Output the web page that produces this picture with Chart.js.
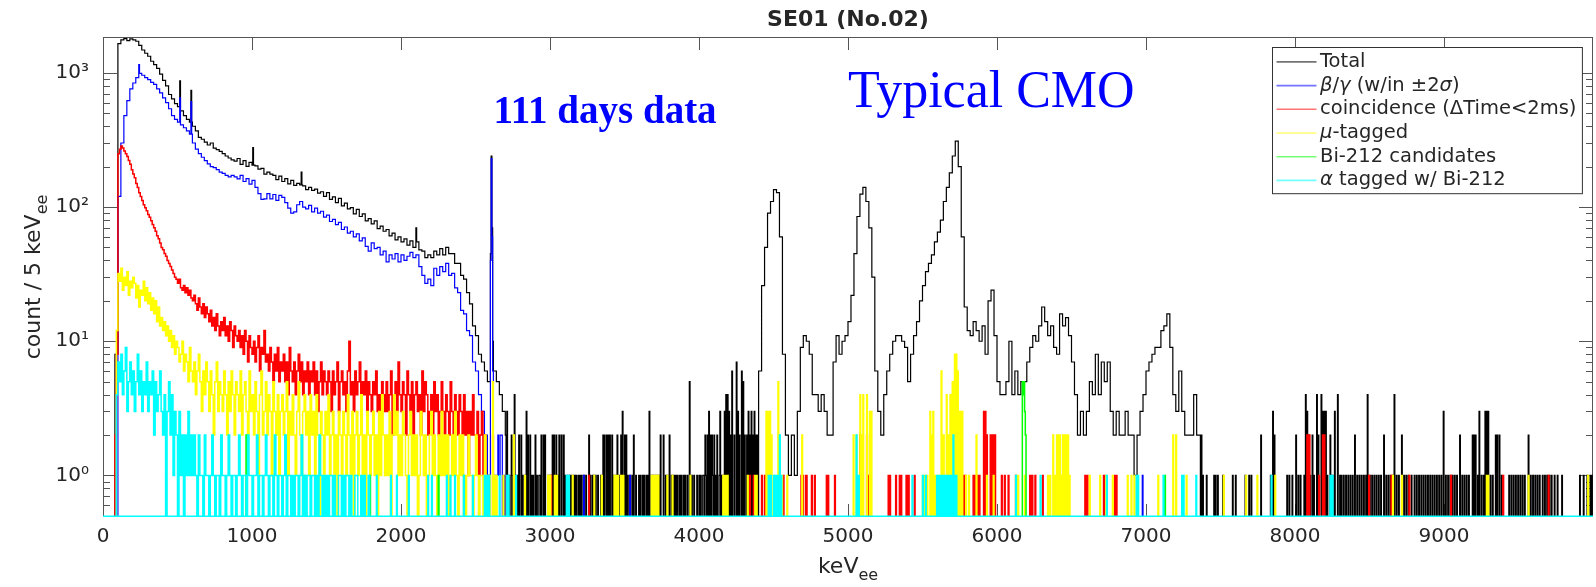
<!DOCTYPE html>
<html>
<head>
<meta charset="utf-8">
<title>SE01 (No.02)</title>
<script src="https://cdn.jsdelivr.net/npm/chart.js@4.4.1/dist/chart.umd.min.js"></script>
<style>
  html, body { margin: 0; padding: 0; background: #fff; }
  #wrap { width: 1596px; height: 587px; }
</style>
</head>
<body>
<div id="wrap"><canvas id="spectrum" width="1596" height="587"></canvas></div>
<script>
// Energy spectrum in 5 keV bins, 0 - 10000 keV
const BIN = 5;
const X_MIN = 0, X_MAX = 10000;
const Y_MIN = 0.49, Y_MAX = 1850;
const xTicks = [0, 1000, 2000, 3000, 4000, 5000, 6000, 7000, 8000, 9000];
const yTicks = [1, 10, 100, 1000];
const yTickLabels = ['10⁰', '10¹', '10²', '10³'];

// dense parts start at LOW_START keV; Total/beta in 20 keV steps, the rest in 10 keV steps
const LOW_START = 80;
const PEAK_START = 4400;

const totalLow = [8,
  1650, 1760, 1800, 1740, 1790, 1760, 1720, 1600, 1480, 1400,
  1330, 1220, 1150, 1080, 980, 880, 800, 690, 640, 590,
  560, 520, 480, 450, 430, 400, 370, 330, 320, 305,
  290, 300, 275, 268, 260, 250, 240, 232, 225, 220,
  230, 208, 222, 201, 215, 205, 203, 192, 194, 176,
  182, 176, 172, 160, 170, 155, 163, 149, 158, 145,
  150, 146, 144, 135, 140, 133, 136, 127, 130, 120,
  128, 114, 119, 108, 116, 102, 107, 97, 99, 89,
  96, 85, 89, 79, 82, 75, 79, 69, 72, 66,
  68, 61, 64, 57, 60, 55, 58, 52, 56, 50,
  55, 48, 47, 42, 44, 42, 47, 44, 49, 44,
  50, 45, 45, 38, 38, 31, 29, 23, 19, 13,
  11, 8, 7, 6, 5, 6, 6, 5, 4, 3];

const totalPeaks = [
  6, 26, 50, 90, 110, 135, 128, 60, 8, 2,
  1, 2, 1, 3, 9, 11, 10, 8, 4, 4,
  3, 4, 3, 2, 2, 7, 11, 8, 10, 11,
  14, 22, 45, 85, 125, 140, 110, 70, 30, 6,
  3, 2, 4, 6, 8, 10, 11, 11, 10, 9,
  5, 8, 11, 14, 20, 26, 33, 38, 44, 55,
  65, 80, 110, 140, 180, 240, 310, 200, 60, 18,
  12, 11, 14, 12, 10, 13, 8, 20, 24, 11,
  5, 4, 4, 5, 10, 4, 6, 4, 5, 5,
  7, 9, 11, 10, 13, 18, 14, 11, 13, 9,
  8, 16, 13, 15, 11, 7, 4, 2, 3, 2,
  3, 5, 4, 8, 4, 7, 5, 7, 3, 2,
  3, 2, 2, 3, 2, 2, 1, 2, 3, 4,
  6, 7, 8, 9, 9, 12, 13, 16, 9, 4,
  3, 6, 3, 2, 2, 2, 4, 2];

// single 5 keV bins: [keV, count]
const totalLines = [[515, 870], [590, 740], [1005, 277], [1330, 182], [2100, 70],
  [2600, 45], [2605, 240], [2610, 70], [2615, 10]];

const totalTail = [[2700,2],[2710,3],[2725,1],[2740,2],[2745,1],[2760,4],[2770,1],[2780,1],[2790,2],[2805,2],
  [2815,1],[2830,1],[2840,3],[2850,2],[2865,2],[2875,1],[2885,1],[2900,2],[2910,1],[2925,1],[2930,1],[2940,2],
  [2955,2],[2965,2],[2985,1],[2995,1],[3005,1],[3015,2],[3025,2],[3040,2],[3050,1],[3060,2],[3075,2],[3090,2],
  [3100,1],[3115,1],[3130,1],[3140,1],[3155,1],[3165,1],[3175,1],[3190,1],[3200,1],[3210,1],[3225,1],[3240,1],
  [3260,2],[3270,1],[3285,1],[3295,1],[3305,1],[3320,1],[3340,1],[3355,2],[3365,2],[3380,2],[3390,2],[3400,2],
  [3415,2],[3425,1],[3440,1],[3450,2],[3460,1],[3475,2],[3485,3],[3500,2],[3510,2],[3520,1],[3535,1],[3550,1],
  [3560,2],[3575,1],[3595,1],[3605,1],[3620,1],[3630,1],[3645,1],[3655,1],[3665,3],[3680,1],[3690,1],[3705,1],
  [3720,1],[3730,1],[3740,2],[3760,2],[3775,1],[3785,1],[3800,2],[3815,1],[3825,1],[3835,1],[3845,1],[3855,1],
  [3870,1],[3880,1],[3895,1],[3905,1],[3920,1],[3935,5],[3950,1],[3965,1],[3985,1],[4000,1],[4010,1],[4025,1],
  [4030,1],[4040,2],[4045,1],[4055,2],[4065,3],[4075,2],[4085,2],[4090,1],[4100,2],[4110,1],[4120,2],[4135,1],
  [4140,3],[4150,1],[4160,1],[4170,3],[4180,4],[4190,4],[4200,3],[4210,2],[4220,6],[4235,2],[4250,7],[4260,3],
  [4270,2],[4285,6],[4295,5],[4305,2],[4320,2],[4330,3],[4340,2],[4350,3],[4360,2],[4370,3],[4380,2],[4390,2],
  [7360,2],[7370,2],[7380,1],[7405,1],[7455,1],[7465,1],[7480,1],[7515,1],[7580,1],[7600,1],[7665,1],[7690,1],
  [7705,1],[7770,2],[7835,1],[7850,3],[7860,2],[7945,1],[7960,1],[7980,1],[8005,2],[8020,1],[8035,1],[8060,1],
  [8070,4],[8080,3],[8090,2],[8100,1],[8115,2],[8125,1],[8145,4],[8155,2],[8175,4],[8185,3],[8195,3],[8205,3],
  [8215,1],[8235,2],[8250,1],[8265,3],[8285,4],[8300,1],[8310,1],[8325,1],[8340,1],[8355,1],[8370,1],[8385,1],
  [8400,2],[8415,1],[8430,1],[8445,1],[8460,1],[8475,1],[8485,4],[8500,1],[8515,1],[8530,1],[8545,1],[8560,1],
  [8575,1],[8595,2],[8610,1],[8625,1],[8640,1],[8655,1],[8665,4],[8680,1],[8695,1],[8715,2],[8730,1],[8745,1],
  [8760,1],[8780,1],[8800,1],[8815,1],[8830,1],[8845,1],[8860,1],[8875,1],[8890,1],[8905,1],[8920,1],[8935,1],
  [8950,1],[8965,1],[8980,1],[8995,3],[9010,1],[9025,1],[9040,1],[9055,1],[9070,1],[9085,1],[9105,2],[9120,1],
  [9135,1],[9150,1],[9165,1],[9190,2],[9200,2],[9210,2],[9225,1],[9235,3],[9250,1],[9265,1],[9275,3],[9285,3],
  [9295,3],[9310,1],[9325,1],[9345,2],[9355,2],[9370,2],[9385,1],[9435,1],[9450,1],[9465,1],[9480,1],[9495,1],
  [9510,1],[9525,1],[9540,1],[9565,2],[9580,1],[9595,1],[9610,1],[9625,1],[9640,1],[9660,1],[9675,1],[9690,1],
  [9705,1],[9720,1],[9740,1],[9760,1],[9790,1],[9910,1],[9935,1],[9960,1],[9980,1],[9990,1]];

const betaLow = [0,
  120, 300, 480, 620, 760, 840, 920, 990, 960, 920,
  890, 850, 820, 760, 710, 650, 600, 540, 480, 450,
  430, 410, 390, 370, 350, 300, 270, 250, 235, 222,
  210, 200, 197, 190, 182, 178, 172, 168, 172, 168,
  162, 172, 155, 163, 148, 158, 140, 126, 114, 115,
  126, 115, 124, 112, 122, 118, 108, 98, 90, 92,
  104, 110, 100, 97, 103, 92, 98, 90, 93, 84,
  87, 78, 81, 74, 77, 68, 71, 64, 66, 60,
  63, 56, 59, 51, 47, 54, 49, 50, 44, 47,
  39, 44, 41, 45, 39, 44, 40, 43, 46, 42,
  44, 36, 31, 27, 29, 26, 35, 31, 36, 33,
  38, 31, 32, 25, 23, 17, 16, 12, 11, 7,
  6, 4, 3, 2, 1, 3, 1, 1, 2, 0];

const betaLines = [[240, 1150], [515, 650], [590, 610],
  [2600, 40], [2605, 230], [2610, 60], [2615, 6]];
const betaTail = [[2650,2],[2660,1],[2690,1],[3225,1],[3535,1],[4450,1],[6975,1]];

const coincLow = [2, 8,
  250, 270, 285, 275, 262, 250, 238, 222, 208, 190,
  176, 165, 150, 140, 128, 120, 112, 104, 99, 94,
  88, 84, 79, 74, 70, 66, 61, 58, 54, 50,
  48, 45, 43, 40, 38, 36, 34, 32, 30, 29,
  27, 29, 25, 24, 26, 23, 25, 22, 24, 21,
  20, 22, 19, 17, 21, 18, 16, 19, 15, 18,
  16, 14, 17, 13, 15, 12, 16, 13, 11, 14,
  12, 15, 11, 13, 10, 14, 12, 9, 13, 11,
  10, 12, 9, 11, 8, 12, 10, 7, 11, 9,
  8, 10, 7, 9, 11, 6, 9, 8, 12, 7,
  8, 6, 9, 7, 5, 8, 6, 9, 5, 7,
  6, 8, 5, 7, 4, 9, 6, 5, 7, 4,
  6, 8, 5, 7, 4, 6, 5, 7, 4, 6,
  5, 7, 4, 6, 3, 5, 7, 4, 6, 5,
  4, 6, 5, 3, 6, 4, 5, 7, 3, 5,
  6, 4, 5, 3, 6, 10, 4, 5, 3, 6,
  4, 5, 7, 3, 5, 4, 6, 3, 5, 4,
  3, 5, 4, 6, 3, 4, 2, 5, 4, 3,
  5, 3, 4, 6, 2, 4, 5, 3, 7, 4,
  3, 5, 4, 2, 6, 4, 3, 5, 2, 4,
  5, 3, 4, 2, 6, 3, 5, 4, 2, 3,
  4, 2, 5, 3, 4, 2, 3, 5, 3, 2,
  4, 3, 2, 5, 3, 2, 4, 3, 2, 4,
  3, 2, 4, 2, 3, 1, 3, 2, 4, 2,
  2, 3, 1, 2, 3, 1, 2, 0, 1, 0];

const coincTail = [[2615,2],[3005,1],[3260,1],[4340,1],[4365,1],[4420,1],[4440,1],[4450,1],[4565,1],[4685,1],
  [4695,1],[4715,1],[4720,1],[4755,1],[4775,1],[4855,1],[4865,1],[4910,1],[5080,2],[5090,1],[5125,2],[5135,1],
  [5270,1],[5280,1],[5320,1],[5345,1],[5355,1],[5390,1],[5405,1],[5445,1],[5705,2],[5715,2],[5770,1],[5785,1],
  [5840,1],[5850,1],[5865,1],[5880,1],[5910,3],[5920,3],[5930,2],[5955,2],[5965,2],[5975,2],[5985,2],[6030,1],
  [6050,1],[6075,1],[6125,1],[6220,1],[6235,1],[6255,1],[6305,1],[6590,1],[6605,1],[6715,1],[6720,1],[6790,1],
  [6800,1],[8080,2],[8095,2],[8160,1],[8185,2],[8195,2],[8495,1],[8645,1],[8765,1],[9045,1],[9395,1],[9700,1]];

const muLow = [0, 12,
  32, 28, 35, 24, 30, 26, 33, 22, 28, 25,
  30, 27, 21, 26, 18, 24, 22, 28, 20, 25,
  19, 23, 17, 21, 16, 20, 14, 18, 13, 15,
  12, 14, 11, 13, 10, 12, 9, 11, 8, 10,
  9, 7, 8, 10, 6, 8, 7, 5, 9, 6,
  5, 7, 4, 6, 8, 5, 3, 6, 4, 7,
  5, 3, 6, 4, 2, 5, 7, 3, 5, 4,
  3, 6, 4, 2, 5, 3, 6, 4, 2, 5,
  4, 3, 6, 2, 4, 5, 3, 2, 6, 3,
  4, 2, 5, 3, 1, 4, 6, 2, 3, 5,
  2, 4, 3, 1, 5, 3, 2, 4, 1, 3,
  4, 2, 3, 5, 1, 3, 2, 4, 2, 1,
  3, 5, 2, 1, 3, 4, 2, 3, 1, 4,
  2, 3, 1, 4, 2, 0, 3, 2, 1, 3,
  2, 4, 1, 2, 3, 1, 2, 0, 3, 2,
  1, 3, 2, 1, 4, 2, 1, 3, 0, 2,
  3, 1, 2, 4, 1, 2, 0, 3, 2, 1,
  2, 3, 1, 2, 0, 3, 1, 4, 2, 1,
  2, 1, 3, 0, 2, 4, 2, 3, 1, 2,
  1, 3, 2, 1, 0, 2, 3, 1, 2, 1,
  2, 0, 1, 3, 2, 1, 2, 0, 1, 2,
  3, 1, 2, 1, 0, 2, 1, 3, 1, 2,
  1, 2, 0, 1, 2, 1, 3, 1, 0, 2,
  1, 2, 1, 0, 1, 2, 1, 1, 0, 1,
  2, 1, 0, 1, 1, 0, 2, 1, 0, 1];

const muTail = [[2615,5],[2625,1],[2640,1],[2685,1],[2755,2],[2830,1],[2985,1],[3000,1],[3030,1],[3045,1],
  [3150,1],[3295,1],[3345,1],[3430,1],[3440,1],[3455,1],[3475,1],[3490,1],[3680,1],[3695,1],[3710,1],[3725,1],
  [3785,1],[3820,1],[3940,1],[4160,1],[4175,1],[4190,1],[4325,1],[4375,1],[4385,1],[4450,3],[4460,3],[4475,3],
  [4485,2],[4510,1],[4530,5],[4555,1],[4590,1],[4690,2],[5035,2],[5055,2],[5080,4],[5090,2],[5100,4],[5125,4],
  [5145,3],[5155,3],[5500,1],[5515,1],[5530,1],[5550,3],[5560,2],[5570,3],[5585,1],[5600,1],[5610,1],[5625,6],
  [5640,2],[5660,4],[5670,2],[5685,4],[5700,5],[5715,8],[5725,8],[5735,6],[5750,3],[5765,3],[5790,1],[5810,1],
  [5860,2],[5930,1],[5975,1],[6125,1],[6140,1],[6185,1],[6340,1],[6355,1],[6375,2],[6390,1],[6400,2],[6410,2],
  [6420,2],[6430,1],[6440,2],[6450,2],[6465,2],[6475,2],[6485,1],[6620,1],[6690,1],[6730,1],[6775,1],[6875,1],
  [6900,1],[6920,1],[7080,1],[7180,2],[7200,2],[7270,1],[7520,1],[7670,1],[7745,1],[7865,1],[8655,1],[8715,1],
  [9285,1],[9295,1],[9565,1],[9965,1]];

const biTail = [[960,2],[1340,1],[1355,1],[1790,1],[2250,1],[2420,1],
  [6170,5],[6175,4],[6180,5],[6185,3],[6190,2],[7125,1]];

const alphaLow = [0, 4,
  7, 5, 8, 4, 6, 9, 3, 5, 7, 4,
  6, 3, 5, 8, 4, 6, 3, 5, 4, 7,
  3, 5, 4, 6, 2, 5, 3, 4, 6, 3,
  2, 4, 0, 3, 5, 2, 4, 1, 3, 2,
  0, 3, 1, 2, 0, 2, 1, 3, 1, 2,
  1, 2, 1, 0, 2, 1, 1, 0, 2, 1,
  1, 0, 1, 2, 1, 0, 1, 1, 0, 2,
  1, 1, 0, 1, 2, 1, 0, 1, 1, 0,
  1, 2, 1, 0, 1, 1, 0, 2, 1, 1,
  0, 1, 1, 2, 0, 1, 1, 0, 1, 2,
  1, 0, 1, 1, 0, 2, 1, 0, 1, 1,
  0, 1, 2, 0, 1, 1, 0, 1, 0, 1,
  1, 0, 1, 2, 0, 1, 0, 1, 1, 0,
  1, 1, 0, 1, 0, 2, 1, 0, 1, 0,
  1, 0, 1, 1, 0, 1, 0, 0, 1, 1,
  0, 1, 0, 1, 1, 0, 1, 0, 0, 1,
  1, 0, 0, 1, 0, 1, 0, 0, 1, 0];

const alphaTail = [[1835,1],[1930,1],[1970,1],[2050,1],[2180,1],[2205,1],[2305,1],[2330,1],[2360,1],[2420,1],
  [2480,1],[2560,1],[2575,1],[2590,1],[2660,1],[2710,1],[2720,1],[2770,1],[3110,1],[3125,1],[4465,1],[4480,1],
  [4500,1],[4515,1],[4530,1],[4540,2],[4550,1],[5055,2],[5070,1],[5430,1],[5500,1],[5520,1],[5595,1],[5605,1],
  [5615,1],[5630,1],[5640,1],[5655,1],[5665,1],[5680,1],[5690,1],[5705,2],[5715,1],[5725,1],[6125,1],[6290,1],
  [6735,1],[6935,1],[6945,1],[7115,1],[7240,1],[7250,1],[7335,1],[7840,1],[8235,1],[8250,1]];

const FONT = '"DejaVu Sans", "Liberation Sans", sans-serif';
const SERIF = '"Liberation Serif", "Times New Roman", serif';
const INK = '#262626';
// empty bins drop below the axis floor and get clipped, as zeros do on a log axis
const FLOOR = Y_MIN * 0.8;

// put dense runs and single bins into 5 keV bins
function fillBins(segments, singles) {
  const bins = new Array((X_MAX - X_MIN) / BIN).fill(0);
  segments.forEach(([start, step, values]) => {
    values.forEach((v, i) => {
      const b = (start + i * step) / BIN;
      for (let k = 0; k < step / BIN; k++) bins[b + k] = v;
    });
  });
  singles.forEach(list => list.forEach(([kev, n]) => { bins[kev / BIN] = n; }));
  return bins;
}

function toPoints(bins) {
  const pts = bins.map((n, i) => ({ x: X_MIN + i * BIN, y: n > 0 ? n : FLOOR }));
  pts.push({ x: X_MAX, y: pts[pts.length - 1].y });
  return pts;
}

const series = [
  { label: 'Total', color: '#000000', width: 1.2,
    bins: fillBins([[LOW_START, 20, totalLow], [PEAK_START, 20, totalPeaks]], [totalLines, totalTail]) },
  { label: 'β/γ (w/in ±2σ)', color: '#0000ff', width: 1.2,
    bins: fillBins([[LOW_START, 20, betaLow]], [betaLines, betaTail]) },
  { label: 'coincidence (ΔTime<2ms)', color: '#ff0000', width: 1.5,
    bins: fillBins([[LOW_START, 10, coincLow]], [coincTail]) },
  { label: 'μ-tagged', color: '#ffff00', width: 1.5,
    bins: fillBins([[LOW_START, 10, muLow]], [muTail]) },
  { label: 'Bi-212 candidates', color: '#00ff00', width: 1.5,
    bins: fillBins([], [biTail]) },
  { label: 'α tagged w/ Bi-212', color: '#00ffff', width: 1.5,
    bins: fillBins([[LOW_START, 10, alphaLow]], [alphaTail]) }
];

// lowercase greek in italics, the way the TeX interpreter shows it
function richText(ctx, text, x, y, size, draw) {
  const runs = text.split(/([α-ω])/).filter(Boolean);
  let cx = x;
  runs.forEach(r => {
    ctx.font = (/[α-ω]/.test(r) ? 'italic ' : '') + size + 'px ' + FONT;
    if (draw) ctx.fillText(r, cx, y);
    cx += ctx.measureText(r).width;
  });
  return cx - x;
}

function textWithSub(ctx, main, sub, x, y, size) {
  const subSize = Math.round(size * 0.72);
  ctx.font = size + 'px ' + FONT;
  const w1 = ctx.measureText(main).width;
  ctx.font = subSize + 'px ' + FONT;
  const w2 = ctx.measureText(sub).width;
  const sx = x - (w1 + w2) / 2;
  ctx.textAlign = 'left';
  ctx.textBaseline = 'alphabetic';
  ctx.font = size + 'px ' + FONT;
  ctx.fillText(main, sx, y);
  ctx.font = subSize + 'px ' + FONT;
  ctx.fillText(sub, sx + w1, y + size * 0.3);
}

// box, inward ticks, title and axis labels
const frame = {
  id: 'frame',
  beforeDatasetsDraw(chart) {
    const { ctx, chartArea: a, scales: { x, y } } = chart;
    ctx.save();
    ctx.strokeStyle = '#555';
    ctx.lineWidth = 1;
    ctx.strokeRect(a.left + 0.5, a.top + 0.5, a.right - a.left - 1, a.bottom - a.top - 1);
    ctx.beginPath();
    xTicks.forEach(v => {
      const px = Math.round(x.getPixelForValue(v)) + 0.5;
      ctx.moveTo(px, a.top); ctx.lineTo(px, a.top + 13);
      ctx.moveTo(px, a.bottom); ctx.lineTo(px, a.bottom - 13);
    });
    for (let d = -1; d <= 3; d++) {
      for (let m = 1; m <= 9; m++) {
        const v = m * Math.pow(10, d);
        if (v < Y_MIN || v > Y_MAX) continue;
        const py = Math.round(y.getPixelForValue(v)) + 0.5;
        const len = m === 1 ? 14 : 7;
        ctx.moveTo(a.left, py); ctx.lineTo(a.left + len, py);
        ctx.moveTo(a.right, py); ctx.lineTo(a.right - len, py);
      }
    }
    ctx.stroke();

    ctx.fillStyle = INK;
    ctx.textAlign = 'center';
    ctx.textBaseline = 'alphabetic';
    ctx.font = 'bold 22px ' + FONT;
    ctx.fillText('SE01 (No.02)', (a.left + a.right) / 2, 26);

    textWithSub(ctx, 'keV', 'ee', (a.left + a.right) / 2, 573, 22);
    ctx.translate(40, (a.top + a.bottom) / 2);
    ctx.rotate(-Math.PI / 2);
    textWithSub(ctx, 'count / 5 keV', 'ee', 0, 0, 22);
    ctx.restore();
  },
  afterDatasetsDraw(chart) {
    const { ctx, chartArea: a, scales: { x, y } } = chart;
    ctx.save();
    // the empty cyan histogram runs along the bottom edge in the original
    ctx.strokeStyle = '#00ffff';
    ctx.lineWidth = 1.5;
    ctx.beginPath();
    ctx.moveTo(a.left, a.bottom - 0.75);
    ctx.lineTo(a.right, a.bottom - 0.75);
    ctx.stroke();

    // notes written on the slide
    ctx.fillStyle = '#0000ff';
    ctx.textAlign = 'left';
    ctx.textBaseline = 'alphabetic';
    ctx.font = 'bold 39px ' + SERIF;
    ctx.fillText('111 days data', x.getPixelForValue(2620), y.getPixelForValue(421));
    ctx.font = '52px ' + SERIF;
    ctx.fillText('Typical CMO', x.getPixelForValue(5000), y.getPixelForValue(559));

    // legend box in the upper right corner
    const size = 19.5, row = 23.7, lineLen = 40;
    const textW = Math.max(...series.map(s => richText(ctx, s.label, 0, 0, size, false)));
    const w = 4 + lineLen + 3.5 + textW + 6;
    const h = row * series.length + 4;
    const x0 = Math.round(a.right - 11 - w) + 0.5;
    const y0 = Math.round(a.top + 10) + 0.5;
    ctx.fillStyle = '#fff';
    ctx.fillRect(x0, y0, w, h);
    ctx.strokeStyle = '#333';
    ctx.lineWidth = 1;
    ctx.strokeRect(x0, y0, w, h);
    ctx.textBaseline = 'middle';
    series.forEach((s, i) => {
      const cy = y0 + 14.4 + i * row;
      ctx.globalAlpha = 0.55;
      ctx.strokeStyle = s.color;
      ctx.lineWidth = 1.6;
      ctx.beginPath();
      ctx.moveTo(x0 + 4, cy); ctx.lineTo(x0 + 4 + lineLen, cy);
      ctx.stroke();
      ctx.globalAlpha = 1;
      ctx.fillStyle = INK;
      richText(ctx, s.label, x0 + 4 + lineLen + 3.5, cy, size, true);
    });
    ctx.restore();
  }
};

new Chart(document.getElementById('spectrum'), {
  type: 'line',
  data: {
    datasets: series.map((s, i) => ({
      label: s.label,
      data: toPoints(s.bins),
      borderColor: s.color,
      borderWidth: s.width,
      pointRadius: 0,
      stepped: true,
      fill: false,
      order: series.length - i,
      clip: 0
    }))
  },
  options: {
    responsive: false,
    animation: false,
    parsing: false,
    normalized: true,
    events: [],
    layout: { padding: { left: 0, right: 3, top: 37, bottom: 0 } },
    plugins: { legend: { display: false }, tooltip: { enabled: false }, title: { display: false } },
    scales: {
      x: {
        type: 'linear', min: X_MIN, max: X_MAX,
        grid: { display: false, drawTicks: false },
        border: { display: false },
        afterBuildTicks: ax => { ax.ticks = xTicks.map(v => ({ value: v })); },
        afterFit: ax => { ax.height = 70; },
        ticks: {
          font: { family: FONT, size: 20 }, color: INK, padding: 8, maxRotation: 0, autoSkip: false,
          callback: v => String(v)
        }
      },
      y: {
        type: 'logarithmic', min: Y_MIN, max: Y_MAX,
        grid: { display: false, drawTicks: false },
        border: { display: false },
        afterBuildTicks: ax => { ax.ticks = yTicks.map(v => ({ value: v })); },
        afterFit: ax => { ax.width = 103; },
        ticks: {
          font: { family: FONT, size: 20 }, color: INK, padding: 14, autoSkip: false,
          callback: (v, i) => yTickLabels[i]
        }
      }
    }
  },
  plugins: [frame]
});
</script>
</body>
</html>
